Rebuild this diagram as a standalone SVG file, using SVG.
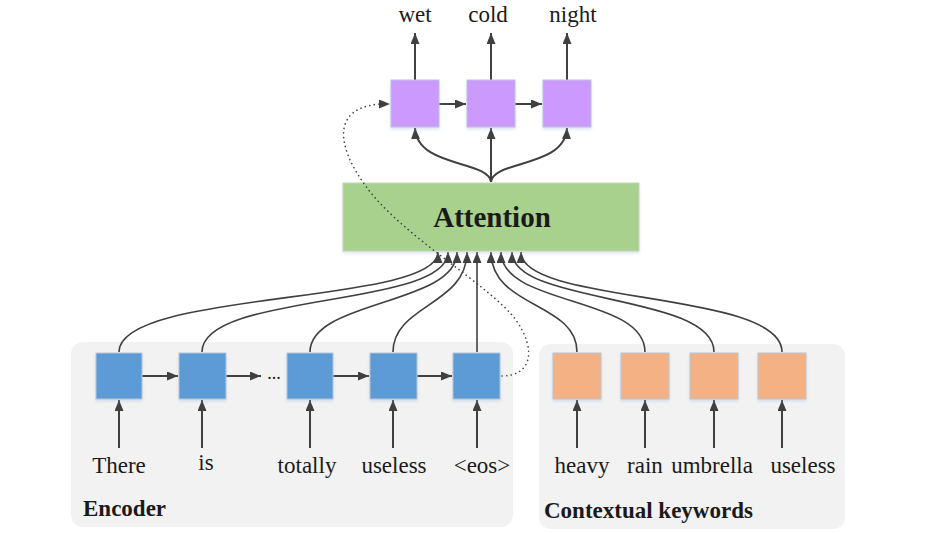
<svg xmlns="http://www.w3.org/2000/svg" width="928" height="534" viewBox="0 0 928 534">
<style>
.grp{fill:#f2f2f2}
.box{stroke:#b9c6d6;stroke-width:1}
.enc{fill:#5b9bd5}
.kw{fill:#f4b183}
.dec{fill:#cc99ff}
.att{fill:#a9d18e;stroke:#c5d3c0;stroke-width:1}
.t{font-family:"Liberation Serif","Times New Roman",serif;font-size:23px;fill:#1a1a1a;text-anchor:middle}
.b{font-family:"Liberation Serif","Times New Roman",serif;font-weight:bold;font-size:23px;fill:#1a1a1a}
.ln{fill:none;stroke:#404040;stroke-width:2}
.cv{fill:none;stroke:#404040;stroke-width:1.6}
.dot{fill:none;stroke:#404040;stroke-width:1.6;stroke-dasharray:0.1 4.5;stroke-linecap:round}
</style>
<defs>
<marker id="ah" viewBox="0 0 11 9" refX="11" refY="4.5" markerWidth="11" markerHeight="9" markerUnits="userSpaceOnUse" orient="auto">
<path d="M0,0 L11,4.5 L0,9 z" fill="#404040"/>
</marker>
<marker id="ahc" viewBox="0 0 11 9" refX="11" refY="4.5" markerWidth="11" markerHeight="9" markerUnits="userSpaceOnUse" orient="auto">
<path d="M0,0 L11,4.5 L0,9 z" fill="#404040"/>
</marker>
<filter id="sh" x="-20%" y="-20%" width="140%" height="150%">
<feDropShadow dx="0" dy="2" stdDeviation="1.5" flood-color="#9fb7d6" flood-opacity="0.35"/>
</filter>
</defs>
<rect width="928" height="534" fill="#ffffff"/>
<g id="encoder-group">
<rect class="grp" x="71" y="342" width="442" height="185" rx="12"/>
<text class="b" x="83" y="516">Encoder</text>
</g>
<g id="keywords-group">
<rect class="grp" x="539" y="344" width="306" height="185" rx="12"/>
<text class="b" x="544" y="518">Contextual keywords</text>
</g>
<g id="connectors">
<path class="ln" d="M415,80 L415,33" marker-end="url(#ah)"/>
<path class="ln" d="M491,80 L491,33" marker-end="url(#ah)"/>
<path class="ln" d="M567,80 L567,33" marker-end="url(#ah)"/>
<path class="ln" d="M439,104 L466,104" marker-end="url(#ah)"/>
<path class="ln" d="M515,104 L542,104" marker-end="url(#ah)"/>
<path class="ln" d="M491,182 C489,160 417,168 415,128" marker-end="url(#ah)"/>
<path class="ln" d="M491,182 L491,128" marker-end="url(#ah)"/>
<path class="ln" d="M491,182 C493,160 565,168 567,128" marker-end="url(#ah)"/>
<path class="cv" d="M119,352 C119,290 438,305 438,252" marker-end="url(#ahc)"/>
<path class="cv" d="M202,352 C202,292 448,308 448,252" marker-end="url(#ahc)"/>
<path class="cv" d="M310,352 C310,300 457,305 457,252" marker-end="url(#ahc)"/>
<path class="cv" d="M393,352 C393,305 467,305 467,252" marker-end="url(#ahc)"/>
<path class="cv" d="M477,352 L477,252" marker-end="url(#ahc)"/>
<path class="cv" d="M577,352 C577,302 491,308 491,252" marker-end="url(#ahc)"/>
<path class="cv" d="M645,352 C645,296 501,306 501,252" marker-end="url(#ahc)"/>
<path class="cv" d="M714,352 C714,293 512,305 512,252" marker-end="url(#ahc)"/>
<path class="cv" d="M782,352 C782,290 521,305 521,252" marker-end="url(#ahc)"/>
<path class="ln" d="M142,376 L178,376" marker-end="url(#ah)"/>
<path class="ln" d="M226,376 L261,376" marker-end="url(#ah)"/>
<path class="ln" d="M333,376 L369,376" marker-end="url(#ah)"/>
<path class="ln" d="M417,376 L452,376" marker-end="url(#ah)"/>
<path class="ln" d="M119,448 L119,400" marker-end="url(#ah)"/>
<path class="ln" d="M202,448 L202,400" marker-end="url(#ah)"/>
<path class="ln" d="M310,448 L310,400" marker-end="url(#ah)"/>
<path class="ln" d="M393,448 L393,400" marker-end="url(#ah)"/>
<path class="ln" d="M477,448 L477,400" marker-end="url(#ah)"/>
<path class="ln" d="M577,448 L577,400" marker-end="url(#ah)"/>
<path class="ln" d="M645,448 L645,400" marker-end="url(#ah)"/>
<path class="ln" d="M714,448 L714,400" marker-end="url(#ah)"/>
<path class="ln" d="M782,448 L782,400" marker-end="url(#ah)"/>
</g>
<g id="attention">
<rect class="att" x="343" y="183" width="296" height="68" filter="url(#sh)"/>
<text x="492" y="227" text-anchor="middle" font-family="'Liberation Serif','Times New Roman',serif" font-weight="bold" font-size="29" fill="#1a1a1a">Attention</text>
</g>
<g id="dec1"><rect class="box dec" x="391" y="80" width="48" height="47" filter="url(#sh)"/><text class="t" x="415" y="22">wet</text></g>
<g id="dec2"><rect class="box dec" x="467" y="80" width="48" height="47" filter="url(#sh)"/><text class="t" x="488" y="22">cold</text></g>
<g id="dec3"><rect class="box dec" x="543" y="80" width="48" height="47" filter="url(#sh)"/><text class="t" x="573" y="22">night</text></g>
<g id="enc1"><rect class="box enc" x="96" y="353" width="46" height="46" filter="url(#sh)"/><text class="t" x="119" y="473">There</text></g>
<g id="enc2"><rect class="box enc" x="179" y="353" width="47" height="46" filter="url(#sh)"/><text class="t" x="206" y="470">is</text></g>
<g id="ellipsis"><text class="t" x="274" y="379" style="font-size:18px">...</text></g>
<g id="enc3"><rect class="box enc" x="287" y="353" width="46" height="46" filter="url(#sh)"/><text class="t" x="307" y="473">totally</text></g>
<g id="enc4"><rect class="box enc" x="370" y="353" width="47" height="46" filter="url(#sh)"/><text class="t" x="394" y="473">useless</text></g>
<g id="enc5"><rect class="box enc" x="453" y="353" width="47" height="46" filter="url(#sh)"/><text class="t" x="482" y="473">&lt;eos&gt;</text></g>
<g id="kw1"><rect class="box kw" x="553" y="353" width="48" height="46" filter="url(#sh)"/><text class="t" x="582" y="473">heavy</text></g>
<g id="kw2"><rect class="box kw" x="621" y="353" width="48" height="46" filter="url(#sh)"/><text class="t" x="645" y="473">rain</text></g>
<g id="kw3"><rect class="box kw" x="690" y="353" width="48" height="46" filter="url(#sh)"/><text class="t" x="712" y="473">umbrella</text></g>
<g id="kw4"><rect class="box kw" x="758" y="353" width="48" height="46" filter="url(#sh)"/><text class="t" x="803" y="473">useless</text></g>
<g id="connector-dotted">
<path class="dot" d="M502,376 C530,376 538,352 516,320 C490,285 400,235 365,185 C338,148 330,108 380,104"/>
<path d="M379,104 L390,104" stroke="none" fill="none" marker-end="url(#ah)"/>
</g>
</svg>
